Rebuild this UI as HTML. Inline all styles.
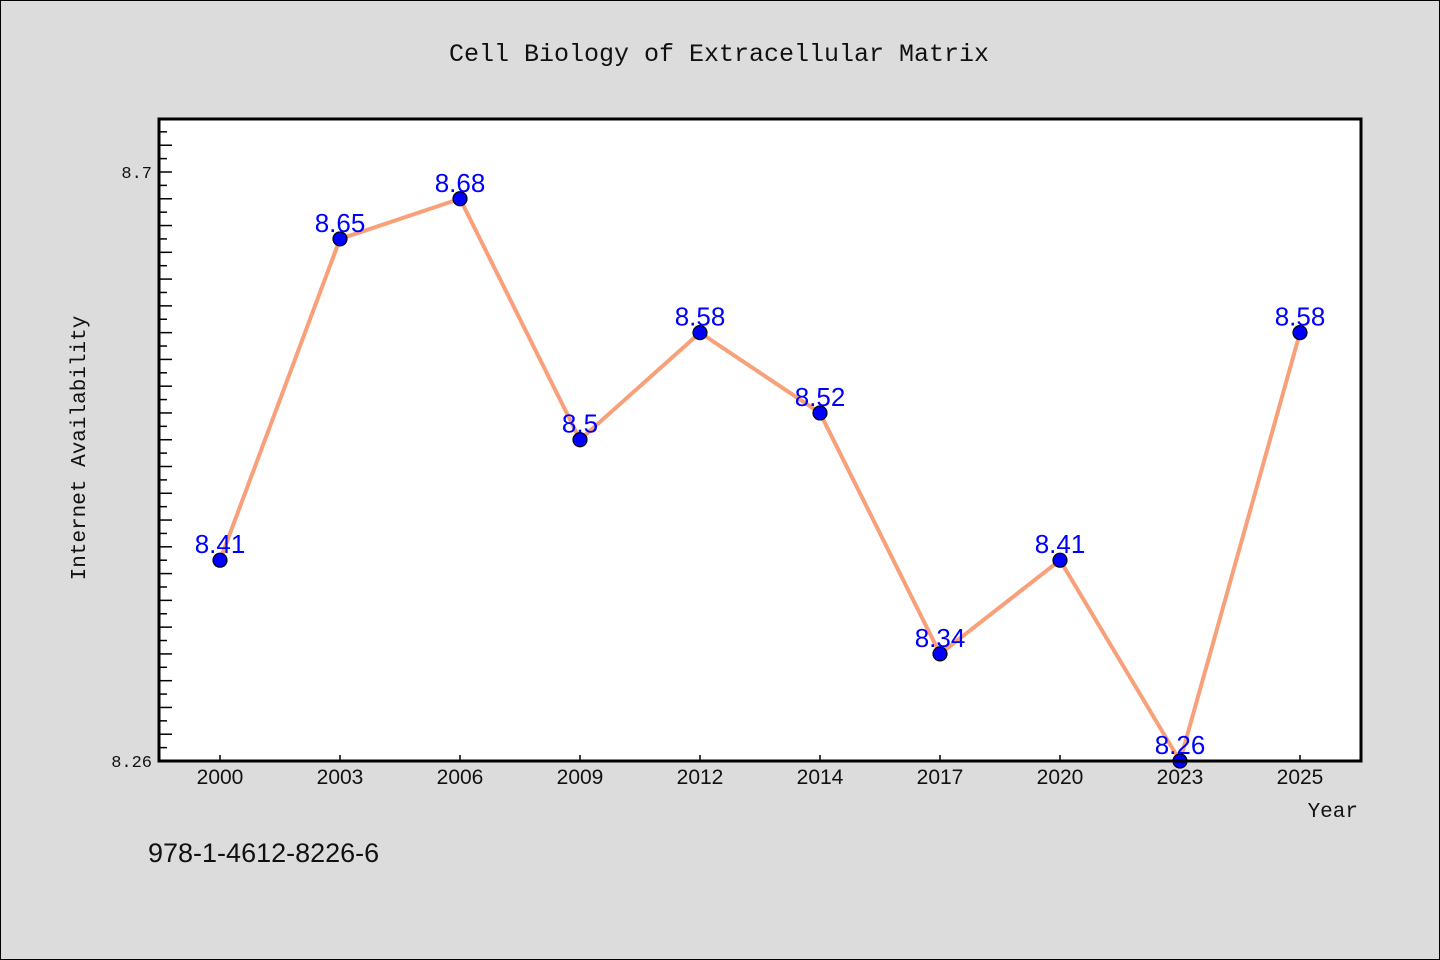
<!DOCTYPE html>
<html><head><meta charset="utf-8"><style>
body{margin:0;background:#dcdcdc;}
svg{display:block;font-family:"Liberation Mono","Noto Sans CJK SC",monospace;}
</style></head><body>
<svg width="1440" height="960">
<rect x="0.5" y="0.5" width="1439" height="959" fill="#dcdcdc" stroke="#000"/>
<text x="719" y="61" text-anchor="middle" font-size="25" fill="#111">Cell Biology of Extracellular Matrix</text>
<rect x="159" y="119" width="1202" height="642" fill="#fff"/>
<g id="ticks"></g>
<g id="series"></g>
<rect x="159" y="119" width="1202" height="642" fill="none" stroke="#000" stroke-width="3"/>
<text x="85" y="448" transform="rotate(-90 85 448)" text-anchor="middle" font-size="21" fill="#111">Internet Availability</text>
<text x="1358" y="817" text-anchor="end" font-size="21" fill="#111">Year</text>
<text x="148" y="862" font-size="27" fill="#111" font-family="Liberation Sans, sans-serif">978-1-4612-8226-6</text>
</svg>
<script>
const categories=["2000","2003","2006","2009","2012","2014","2017","2020","2023","2025"];
const values=[8.41,8.65,8.68,8.5,8.58,8.52,8.34,8.41,8.26,8.58];
const labels=["8.41","8.65","8.68","8.5","8.58","8.52","8.34","8.41","8.26","8.58"];
const yTickLabels=["8.26","8.7"];
const yMin=8.26,yMax=8.7;
const NS="http://www.w3.org/2000/svg";
function y(v){return 761-(v-yMin)/(yMax-yMin)*589;}
function x(i){return 220+i*120;}
function mk(tag,attrs,parent){const e=document.createElementNS(NS,tag);for(const k in attrs)e.setAttribute(k,attrs[k]);parent.appendChild(e);return e;}
const tg=document.getElementById('ticks');
for(let k=0;;k++){const v=yMin+k*0.01;const py=y(v);if(py<121)break;const long=(Math.round(v*100)%2===0);
const t=mk('line',{x1:159,x2:159+(long?13:8),y1:py,y2:py,stroke:'#000','stroke-width':1.5},tg);

}
yTickLabels.forEach(s=>{const t=mk('text',{x:152,y:y(parseFloat(s))+6,'text-anchor':'end','font-size':17,fill:'#111'},tg);t.textContent=s;

});
categories.forEach((c,i)=>{const l=mk('line',{x1:x(i),x2:x(i),y1:761,y2:755,stroke:'#000','stroke-width':1.5},tg);


const t=mk('text',{x:x(i),y:784,'text-anchor':'middle','font-size':21,fill:'#111','font-family':'Liberation Sans, sans-serif'},tg);t.textContent=c;

});
const sg=document.getElementById('series');
const line=mk('polyline',{points:values.map((v,i)=>x(i)+','+y(v)).join(' '),fill:'none',stroke:'#f8a07a','stroke-width':4,'stroke-linejoin':'round'},sg);


values.forEach((v,i)=>{const c=mk('circle',{cx:x(i),cy:y(v),r:7,fill:'#0000ff',stroke:'#000','stroke-width':1.2},sg);


const t=mk('text',{x:x(i),y:y(v)-7,'text-anchor':'middle','font-size':26,fill:'#0000ff','font-family':'Liberation Sans, sans-serif'},sg);t.textContent=labels[i];

});
</script>
</body></html>
